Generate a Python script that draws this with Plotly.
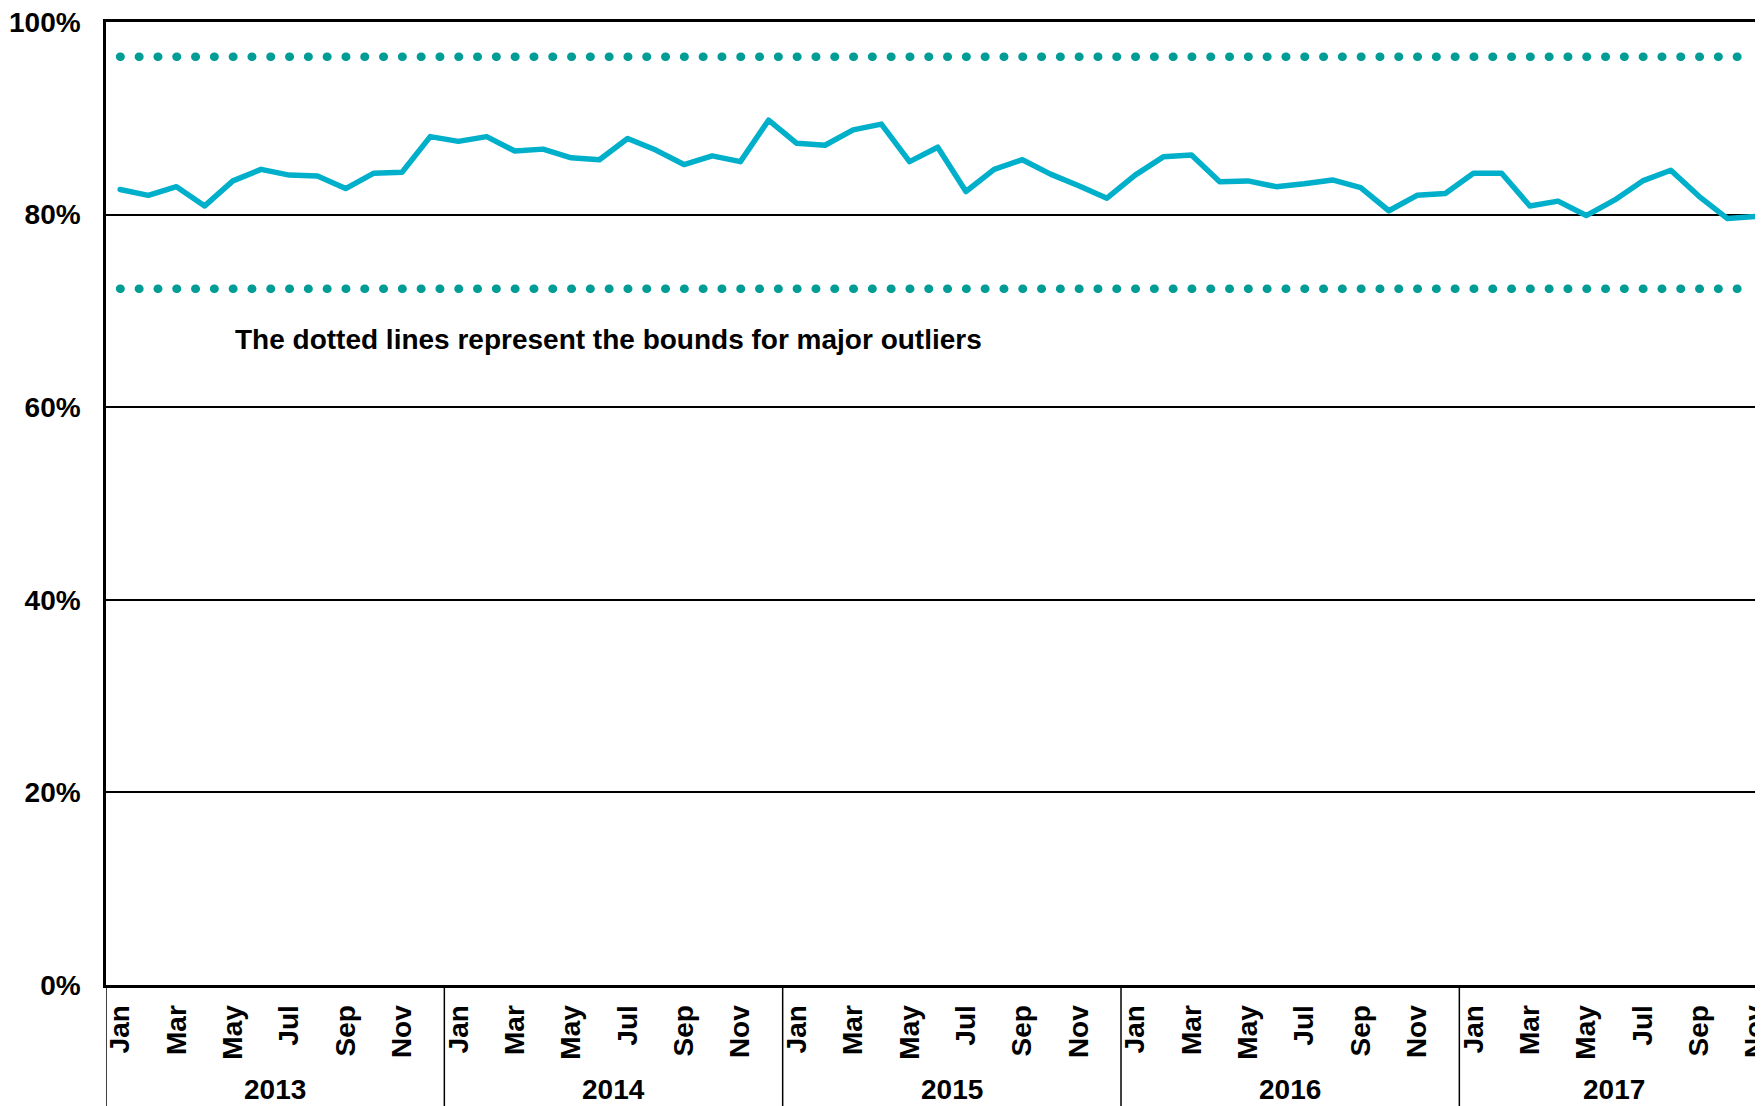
import plotly.graph_objects as go

# ---- data ----
YEARS = [2013, 2014, 2015, 2016, 2017]
MONTH_NAMES = ["Jan", "Feb", "Mar", "Apr", "May", "Jun",
               "Jul", "Aug", "Sep", "Oct", "Nov", "Dec"]
VALUES = [
    # 2013
    82.6, 82.0, 82.9, 80.9, 83.5, 84.7, 84.1, 84.0, 82.7, 84.3, 84.4, 88.1,
    # 2014
    87.6, 88.1, 86.6, 86.8, 85.9, 85.7, 87.9, 86.7, 85.2, 86.1, 85.5, 89.8,
    # 2015
    87.4, 87.2, 88.8, 89.4, 85.5, 87.0, 82.4, 84.7, 85.7, 84.2, 83.0, 81.7,
    # 2016
    84.1, 86.0, 86.2, 83.4, 83.5, 82.9, 83.2, 83.6, 82.8, 80.4, 82.0, 82.2,
    # 2017 (Jan-Nov)
    84.3, 84.3, 80.9, 81.4, 79.9, 81.5, 83.5, 84.6, 81.9, 79.6, 79.8,
]
UPPER_BOUND = 96.4
LOWER_BOUND = 72.3
Y_TICKS = [0, 20, 40, 60, 80, 100]
Y_TICK_LABELS = ["0%", "20%", "40%", "60%", "80%", "100%"]
NOTE = "The dotted lines represent the bounds for major outliers"

# ---- derived categories ----
categories = [(YEARS[i // 12], MONTH_NAMES[i % 12]) for i in range(len(VALUES))]
xs = list(range(len(VALUES)))
tick_idx = [i for i in xs if (i % 12) % 2 == 0]
tick_txt = [categories[i][1] for i in tick_idx]

FONT = "Liberation Sans, Arial, sans-serif"
LINE_COLOR = "#00AFCA"
DOT_COLOR = "#009D96"

fig = go.Figure()
fig.add_trace(go.Scatter(x=xs, y=[UPPER_BOUND] * len(xs), mode="lines",
                         line=dict(color=DOT_COLOR, width=8.5, dash="0.5px,18.3px"),
                         hoverinfo="skip"))
fig.add_trace(go.Scatter(x=xs, y=[LOWER_BOUND] * len(xs), mode="lines",
                         line=dict(color=DOT_COLOR, width=8.5, dash="0.5px,18.3px"),
                         hoverinfo="skip"))
fig.add_trace(go.Scatter(x=xs, y=VALUES, mode="lines",
                         line=dict(color=LINE_COLOR, width=5.5)))

# year dividers and labels
for k, yr in enumerate(YEARS):
    idx = [i for i, c in enumerate(categories) if c[0] == yr]
    fig.add_shape(type="line", xref="x", yref="paper",
                  x0=idx[0] - 0.5, x1=idx[0] - 0.5, y0=0, y1=-0.13,
                  line=dict(color="black", width=1.5))
    fig.add_annotation(x=(idx[0] + idx[-1]) / 2, xref="x", y=0, yref="paper",
                       yshift=-104, yanchor="middle", showarrow=False,
                       text=str(yr),
                       font=dict(family=FONT, size=28, color="black", weight="bold"))

fig.add_annotation(x=0.0766, xref="paper", y=67, yref="y", xanchor="left",
                   yanchor="middle", showarrow=False, text=NOTE,
                   font=dict(family=FONT, size=28, color="black", weight="bold"))

fig.update_layout(
    width=1755, height=1098,
    margin=dict(l=98, r=0, t=14, b=121),
    plot_bgcolor="white", paper_bgcolor="white",
    showlegend=False,
    font=dict(family=FONT, color="black"),
    xaxis=dict(range=[-0.5, 58.27], showgrid=False, zeroline=False,
               showline=True, mirror=True, linecolor="black", linewidth=3,
               tickmode="array", tickvals=tick_idx, ticktext=tick_txt,
               tickangle=-90, ticks="", ticklabelstandoff=6,
               ticklabeloverflow="allow", automargin=False,
               tickfont=dict(family=FONT, size=28, color="black", weight="bold")),
    yaxis=dict(range=[0, 100], tickmode="array", tickvals=Y_TICKS,
               ticktext=Y_TICK_LABELS, showgrid=True, gridcolor="black",
               gridwidth=2, zeroline=False, showline=True, linecolor="black",
               linewidth=2.5, ticks="", ticklabelstandoff=17,
               ticklabeloverflow="allow", automargin=False,
               tickfont=dict(family=FONT, size=28, color="black", weight="bold")),
)

post = """
var gd = document.getElementById('{plot_id}');
function fixCaps(){
  gd.querySelectorAll('.scatterlayer .js-line').forEach(function(p){
    p.style.strokeLinecap = 'round';
    p.style.strokeLinejoin = 'round';
  });
}
fixCaps();
if (gd.on) { gd.on('plotly_afterplot', fixCaps); }
"""
fig.write_html("out.html", post_script=post)
